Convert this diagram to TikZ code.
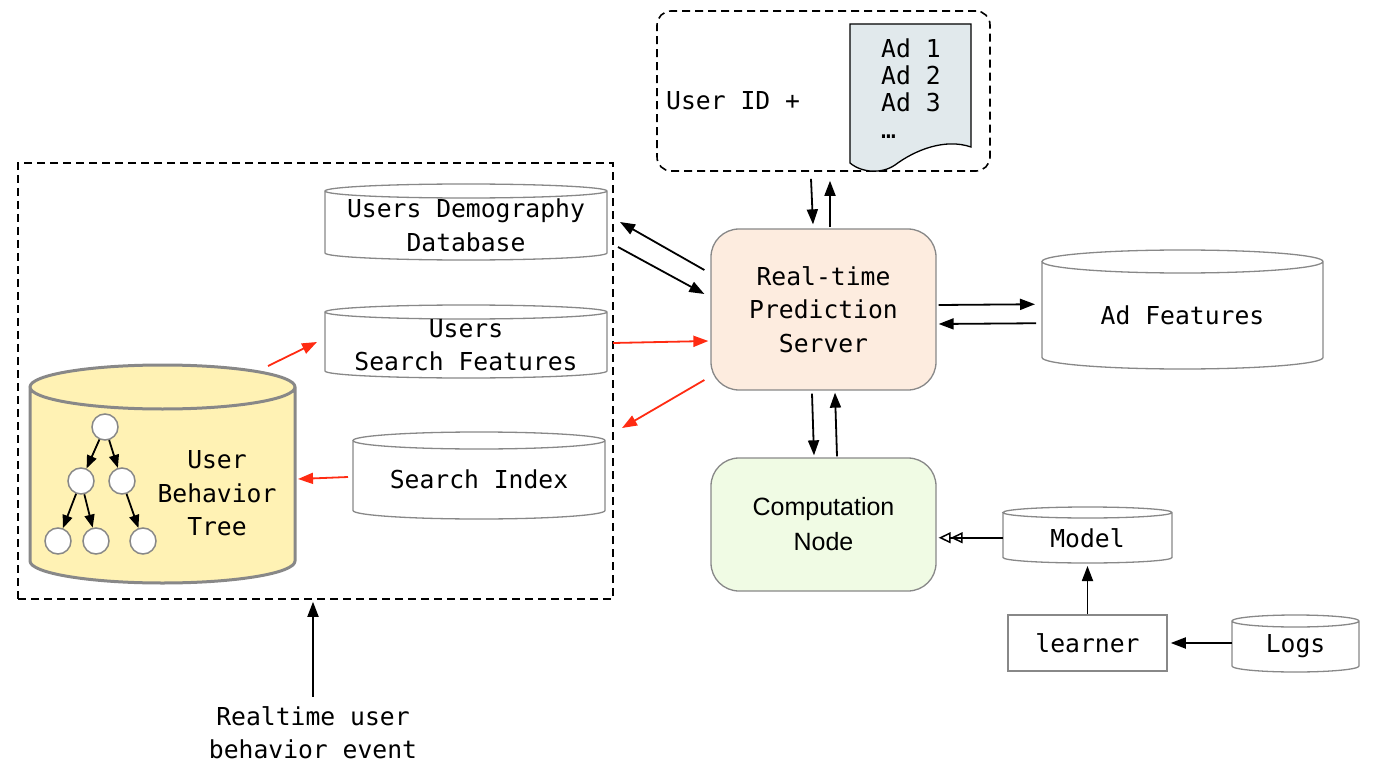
\documentclass[tikz,border=0pt]{standalone}
\usepackage{fontspec}
\setmainfont{DejaVu Sans Mono}
\newfontfamily\compfont{Liberation Sans}
\usetikzlibrary{arrows.meta,backgrounds,calc}
\definecolor{rtfill}{HTML}{FDECDF}
\definecolor{compfill}{HTML}{F0FBE4}
\definecolor{ubtfill}{HTML}{FFF2B4}
\definecolor{docfill}{HTML}{E1E9EC}
\definecolor{boxgray}{HTML}{888888}
\definecolor{arrowred}{HTML}{FF2B12}
\tikzset{
  db/.style={inner sep=0pt, outer sep=0pt, align=center},
  box/.style={draw=boxgray, line width=1.3pt, rounded corners=28pt, minimum width=225pt, inner sep=0pt, align=center},
  frame/.style={draw, dash pattern=on 8pt off 5pt, line width=1.6pt, inner sep=0pt},
  leaf/.style={circle, draw=boxgray, fill=white, line width=1.5pt, minimum size=26pt, inner sep=0pt},
  tip/.style={-{Triangle[length=15pt,width=11pt]}, line width=1.8pt},
  redtip/.style={tip, draw=arrowred}
}
\begin{document}
\begin{tikzpicture}[x=1pt,y=-1pt,font=\fontsize{24.7}{33.5}\selectfont]
\useasboundingbox (0,0) rectangle (1376,778);
% containers
\node[frame, rounded corners=14pt, minimum width=333pt, minimum height=160pt] (query) at (823.5,91) {};
\node[frame, minimum width=595pt, minimum height=436pt] (store) at (315.5,381) {};
\filldraw[fill=docfill, line width=1.3pt] (850,163) -- (850,24) -- (971,24) -- (971,147)
  .. controls (945,138) and (915,150) .. (895,165) .. controls (882,174) and (862,173) .. (850,163) -- cycle;
\node[anchor=north west, inner sep=0pt, align=left, font=\fontsize{24.7}{26.7}\selectfont] (ads) at (881,39) {Ad 1\\Ad 2\\Ad 3\\…};
\node[anchor=west, inner sep=0pt] (uid) at (666,101) {User ID +};
% servers
\node[box, fill=rtfill, minimum height=161pt] (rt) at (823.5,309.5) {Real-time\\Prediction\\Server};
\node[box, fill=compfill, minimum height=133pt, font=\compfont\fontsize{25}{35}\selectfont] (comp) at (823.5,524.5) {Computation\\Node};
\node[draw=boxgray, line width=1.5pt, minimum width=159pt, minimum height=56pt, inner sep=0pt] (learner) at (1087.5,643) {learner};
% databases
\node[db, minimum width=282pt, minimum height=69pt] (demo) at (466,225.5) {Users Demography\\Database};
\node[db, minimum width=282pt, minimum height=66pt] (sf) at (466,345) {Users\\Search Features};
\node[db, minimum width=252pt, minimum height=78.5pt] (si) at (479,479.75) {Search Index};
\node[db, minimum width=281pt, minimum height=107.5pt] (adf) at (1182.5,315.25) {Ad Features};
\node[db, minimum width=169pt, minimum height=50.5pt] (model) at (1087.5,537.75) {Model};
\node[db, minimum width=127pt, minimum height=51pt] (logs) at (1295.5,646.5) {Logs};
\node[db, minimum width=265pt, minimum height=196pt] (ubt) at (162.5,485) {};
\node[align=center, inner sep=0pt] (ubtl) at (217,493.5) {User\\Behavior\\Tree};
\begin{scope}[on background layer]
\foreach \db/\dbr/\dbf/\dbw in {demo/7/white/1.3,sf/7/white/1.3,si/8.5/white/1.3,adf/11.5/white/1.3,model/5.5/white/1.3,logs/6/white/1.3,ubt/22/ubtfill/3}
  \filldraw[fill=\dbf, draw=boxgray, line width=\dbw pt] let \p1=(\db.north west), \p2=(\db.south east), \n1={(\x2-\x1)/2} in
    (\x1,\y1) -- (\x1,\y2+\dbr pt) arc[start angle=180, end angle=360, x radius=\n1, y radius=\dbr pt]
    -- (\x2,\y1) arc[start angle=0, end angle=360, x radius=\n1, y radius=\dbr pt];
\end{scope}
% behavior tree
\foreach \n/\x/\y in {t1/105/427,t2/81/481,t3/122/481,t4/58/541,t5/96/541,t6/143/541}
  \node[leaf] (\n) at (\x,\y) {};
\foreach \a/\b in {t1/t2,t1/t3,t2/t4,t2/t5,t3/t6}
  \draw[-{Triangle[length=13pt,width=10pt]}, line width=1.8pt] (\a) -- (\b);
\node[align=center] (event) at (313,732.5) {Realtime user\\behavior event};
% connectors
\draw[tip] ([xshift=-12.5pt,yshift=-7pt]query.south) -- ([xshift=-10.5pt,yshift=4pt]rt.north);
\draw[tip] ([xshift=6.5pt,yshift=1pt]rt.north) -- ([xshift=6.5pt,yshift=-9pt]query.south);
\draw[tip] ([xshift=-6pt,yshift=39.5pt]rt.west) -- ([xshift=13pt,yshift=3.5pt]demo.east);
\draw[tip] ([xshift=11pt,yshift=-21.5pt]demo.east) -- ([xshift=-6pt,yshift=15.5pt]rt.west);
\draw[redtip] ([xshift=6pt,yshift=2pt]sf.east) -- ([xshift=-2pt,yshift=-31.5pt]rt.west);
\draw[redtip] ([xshift=-6pt,yshift=-70.5pt]rt.west) -- ([xshift=17pt,yshift=12.5pt]si.north east);
\draw[redtip] ([xshift=-27pt,yshift=21pt]ubt.north east) -- ([xshift=-8pt,yshift=3pt]sf.west);
\draw[redtip] ([xshift=-5pt,yshift=2.75pt]si.west) -- ([xshift=3pt,yshift=6pt]ubt.east);
\draw[tip] ([xshift=2pt,yshift=4.5pt]rt.east) -- ([xshift=-7pt,yshift=11pt]adf.west);
\draw[tip] ([xshift=-6pt,yshift=-8pt]adf.west) -- ([xshift=2pt,yshift=-14.5pt]rt.east);
\draw[tip] ([xshift=-11.5pt,yshift=-3pt]rt.south) -- ([xshift=-9.5pt,yshift=2pt]comp.north);
\draw[tip] ([xshift=13.5pt,yshift=1pt]comp.north) -- ([xshift=11.5pt,yshift=-2pt]rt.south);
\draw[-{Triangle[open,length=12pt,width=11pt]Triangle[open,length=12pt,width=11pt]}, line width=1.5pt] (model.west) -- ([xshift=2pt]model.west -| comp.east);
\draw[tip] (learner.north) -- ([yshift=-3pt]model.south);
\draw[tip] (logs.west |- learner) -- ([xshift=3pt]learner.east);
\draw[tip] ([yshift=6pt]event.north) -- ([yshift=-2pt]event.north |- store.south);
\end{tikzpicture}
\end{document}
